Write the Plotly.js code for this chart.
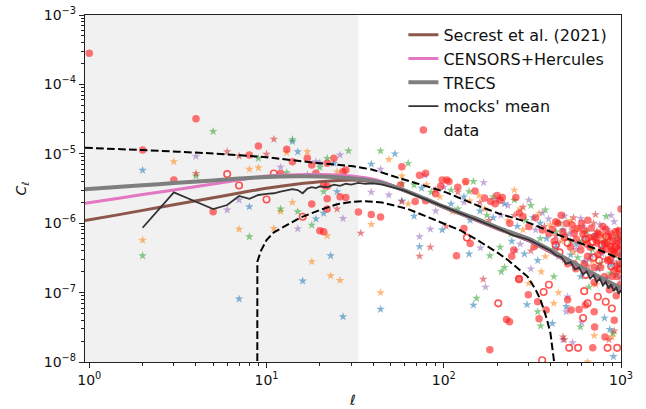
<!DOCTYPE html>
<html><head><meta charset="utf-8">
<script src="https://cdn.plot.ly/plotly-3.0.1.min.js"></script>
<style>html,body{margin:0;padding:0;background:#fff}</style>
</head><body><div id="chart" style="width:646px;height:409px"></div>
<script>
// ---- model curves ----
const modelEll = [0.946, 1.5, 2, 3, 5, 7, 10, 15, 20, 30, 40, 50, 70, 100, 150, 200, 300, 500, 700, 1000];
const secrestCl = [1.09e-6, 1.34e-6, 1.53e-6, 1.84e-6, 2.33e-6, 2.72e-6, 3.18e-6, 3.67e-6, 3.96e-6, 4.19e-6, 3.95e-6, 3.5e-6, 2.5e-6, 1.68e-6, 1.12e-6, 8.3e-7, 5.6e-7, 2.8e-7, 1.75e-7, 1.03e-7];
const censorsCl = [1.94e-6, 2.31e-6, 2.6e-6, 3.0e-6, 3.68e-6, 4.2e-6, 4.79e-6, 5.0e-6, 5.02e-6, 4.8e-6, 4.3e-6, 3.6e-6, 2.55e-6, 1.7e-6, 1.14e-6, 8.4e-7, 5.7e-7, 2.85e-7, 1.78e-7, 1.08e-7];
const trecsCl = [3.08e-6, 3.34e-6, 3.52e-6, 3.78e-6, 4.14e-6, 4.4e-6, 4.65e-6, 4.75e-6, 4.72e-6, 4.45e-6, 4.05e-6, 3.5e-6, 2.55e-6, 1.73e-6, 1.18e-6, 8.7e-7, 6.0e-7, 3.0e-7, 1.87e-7, 1.15e-7];

// ---- mocks' mean ----
const meanEll = [2,3,4,5,6,7,8,9,10,11,12,13,14,15,16,17,18,19,20,22,24,26,28,30,33,36,40,45,50,60,70,85,100,130,160,200,250,300,350,380,400,430,460,490,520,550,580,610,640,670,700,730,760,790,820,850,880,910,940,970,1000];
const meanCl = [8.6e-7,2.78e-6,2.04e-6,1.6e-6,1.83e-6,2.47e-6,2.25e-6,2.55e-6,2.65e-6,2.7e-6,2.85e-6,2.95e-6,3.1e-6,3.0e-6,2.7e-6,3.15e-6,3.3e-6,3.2e-6,3.4e-6,3.3e-6,3.6e-6,3.45e-6,3.7e-6,3.6e-6,3.8e-6,3.7e-6,3.75e-6,3.6e-6,3.35e-6,2.95e-6,2.5e-6,2.05e-6,1.72e-6,1.3e-6,1.07e-6,8.5e-7,6.6e-7,5.8e-7,4.75e-7,4.2e-7,4.0e-7,3.45e-7,3.25e-7,2.6e-7,2.75e-7,2.15e-7,2.3e-7,1.82e-7,2.02e-7,1.6e-7,1.78e-7,1.42e-7,1.6e-7,1.27e-7,1.43e-7,1.15e-7,1.31e-7,1.05e-7,1.2e-7,9.6e-8,1.09e-7];

// ---- mocks' spread (dashed) ----
const upperEll = [0.946, 2, 5, 10, 20, 30, 40, 57, 100, 155, 200, 300, 400, 500, 650, 800, 1000];
const upperCl = [1.22e-5, 1.13e-5, 1.01e-5, 8.9e-6, 7.3e-6, 6.67e-6, 5.85e-6, 4.4e-6, 2.85e-6, 1.8e-6, 1.41e-6, 1.02e-6, 7.55e-7, 6.0e-7, 4.7e-7, 3.85e-7, 3.0e-7];
const lowerEll = [8.87, 8.88, 9.3, 10, 11, 12.5, 15.5, 20, 25, 30, 36, 45, 53, 62, 80, 100, 125, 154, 200, 230, 265, 297, 330, 352, 380, 400, 418, 426];
const lowerCl = [5e-9, 2.8e-7, 4.0e-7, 5.7e-7, 7.4e-7, 8.9e-7, 1.2e-6, 1.55e-6, 1.87e-6, 2.02e-6, 2.08e-6, 1.98e-6, 1.8e-6, 1.62e-6, 1.25e-6, 1.0e-6, 7.8e-7, 5.75e-7, 3.8e-7, 2.95e-7, 2.2e-7, 1.7e-7, 1.1e-7, 7.8e-8, 4.3e-8, 2.6e-8, 1.07e-8, 5e-9];

// ---- individual mocks ----
const blueEll = [2,7,8,14,15,16,19,21,23,24,25,27,39,44,53,58,68,73,98,139,141,147,242,285,295,339,410,491,593,807,865,906,110,160,190,260,320,380,430,470,520,560,620,680,740,780,830,880,940,990,960,75,130,220,350,700,900];
const blueCl = [5.8e-6,8.1e-8,1.73e-6,1.5e-5,1.07e-5,1.47e-7,1.15e-6,1.39e-6,3.4e-7,7.3e-6,2.85e-6,4.5e-8,7.1e-6,5.75e-8,1.0e-5,2.1e-6,1.26e-6,4.6e-7,8.0e-7,3.6e-7,1.1e-6,6.6e-8,5.5e-7,3.6e-7,6.7e-8,2.9e-7,3.6e-8,6.3e-8,1.7e-7,4.3e-8,2.95e-8,1.2e-8,1.9e-6,1.5e-6,1.2e-6,9e-7,1.2e-6,6e-7,4.5e-7,8e-7,3.5e-7,5e-7,2.8e-7,3.5e-7,2.2e-7,4.5e-7,1.6e-7,2.5e-7,1.8e-7,3.5e-7,1.2e-7,3.2e-6,2.4e-6,1.9e-6,1.0e-6,6.5e-7,4.2e-7];
const orangeEll = [2,3,7,8,9,11,12,13,14,17,18,22,23,25,26,39,44,49,58,63,112,133,158,250,302,345,355,374,418,444,648,706,890,95,170,230,280,330,400,460,540,580,630,690,750,800,860,920,980,720,80,140,270,520,850];
const orangeCl = [5.7e-7,7.7e-6,8.2e-7,6.0e-6,6.3e-6,8.4e-7,1.47e-6,1.04e-5,2.0e-6,1.07e-5,2.8e-7,6.6e-7,1.75e-7,5.5e-6,1.5e-7,9.6e-7,1.0e-7,8.3e-6,4.8e-6,1.9e-6,1.47e-6,3.85e-6,2.5e-6,3.0e-6,1.36e-7,1.4e-6,2e-7,3.3e-7,7e-8,1e-7,1e-8,2.4e-8,2.3e-8,2.4e-6,1.6e-6,1.1e-6,8e-7,4.8e-7,9.5e-7,5.5e-7,3.8e-7,8.5e-7,5.5e-7,2.8e-7,4e-7,6.5e-7,3.2e-7,4.2e-7,2e-7,1.3e-7,3.6e-6,2.1e-6,1.6e-6,1.1e-6,5.0e-7];
const greenEll = [2,4,5,8,9,12,13,14,15,18,20,21,22,29,44,58,63,68,139,147,153,182,208,211,220,250,310,339,352,374,418,480,590,825,900,85,120,175,240,290,350,410,450,520,570,640,690,760,810,870,930,990,660,110,190,430,600,950];
const greenCl = [3.4e-7,4.8e-6,2.1e-5,6.4e-7,8.6e-6,1.6e-6,5.35e-6,1.6e-5,1.47e-6,9.4e-7,6.4e-6,2.85e-6,8.6e-6,1.1e-5,1.1e-5,3.7e-6,7.3e-6,3.55e-6,2.85e-6,4.0e-6,8.3e-8,3.4e-7,4.5e-7,2.0e-7,2.3e-7,2.15e-6,1.8e-6,5.3e-8,3.3e-8,1.55e-6,1.7e-7,6.7e-7,3.2e-8,1.25e-6,2.6e-8,2.8e-6,1.6e-6,1.3e-6,7e-7,1.1e-6,6e-7,4e-7,1.0e-6,5.5e-7,3.2e-7,7.5e-7,4.2e-7,2.6e-7,5.5e-7,1.9e-7,3.4e-7,2.5e-7,1.2e-7,3.0e-6,2.4e-6,7.5e-7,5.5e-7,6.5e-7];
const purpleEll = [4,6,7,12,15,17,19,20,26,27,39,44,49,73,78,84,161,168,172,230,255,302,310,444,471,480,491,500,533,593,600,915,90,130,210,270,330,390,440,510,560,610,660,720,780,840,900,960,1000,880,100,200,360,620,760,970];
const purpleCl = [9.2e-6,1.55e-6,2.16e-6,6.4e-6,8.3e-7,5.0e-6,7.7e-6,7.4e-6,9.6e-6,1.17e-6,2.8e-6,6.0e-6,2.55e-6,6.4e-7,4.9e-6,8.2e-7,4.4e-7,3.85e-6,1.2e-7,1.8e-6,4.1e-7,2.15e-6,2.2e-7,3.3e-7,2.1e-8,1.27e-6,5.3e-8,8.7e-8,1.9e-8,1.17e-6,3.7e-8,1.05e-6,1.5e-6,2.0e-6,1.3e-6,5e-7,8e-7,1.15e-6,5.2e-7,7e-7,4.2e-7,9e-7,3.0e-7,6.8e-7,3.6e-7,8e-7,2.8e-7,4.5e-7,1.6e-7,1.3e-6,3.3e-6,2.2e-6,1.4e-6,6.2e-7,9.5e-7,5.8e-7];
const redEll = [4,6,7,10,11,25,34,58,73,84,103,167,471,479,717,855,916,120,180,250,310,370,430,480,530,590,650,700,760,820,880,940,990,90,160,280,540,730,960];
const redCl = [5.2e-6,1.07e-5,9.3e-6,9.9e-6,1.62e-5,1.6e-6,7.2e-7,2.05e-6,3.35e-7,4.5e-7,9.1e-7,1.56e-7,2.3e-8,2.1e-8,1.33e-6,2.1e-8,2.8e-8,2.8e-6,1.1e-6,1.3e-6,4e-7,9e-7,6.5e-7,3e-7,8e-7,5e-7,2.4e-7,1.0e-6,5.5e-7,3e-7,6e-7,2.6e-7,5.5e-7,3.0e-6,2.0e-6,1.7e-6,1.2e-6,7.5e-7,8e-7];

// ---- data ----
const dataEll = [1,2,3,4,5,8,9,12,13,14,17,18,18,19,20,21,21,22,22,22,22,24,26,27,28,28,33,39,44,58,57,73,79,79,69,90,96,98,104,107,133,130,118,141,184,195,200,208,214,255,248,226,235,182,236,266,242,266,300,302,324,339,345,378,392,428,491,500,500,523,545,545,555,567,580,593,622,630,648,660,693,706,706,706,706,710,720,768,808,808,812,825,842,873,888,916,916,916,950,330,360,420,460,470,520,600,640,680,740,780,790,850,870,900,930,960,980,1000,950,860,940,990,740,620,1000,410,440,480,530,560,610,650,670,730,760,820,830,880,910,940,970,990,1000,890,960,150,170,120,280];
const dataCl = [2.8e-4,1.13e-5,4.2e-6,3.2e-5,1.46e-6,9.6e-6,1.3e-5,5.2e-6,1.16e-5,7.7e-6,8.6e-6,6.9e-6,1.89e-6,5.25e-6,7.8e-7,7.5e-7,3.55e-6,7.3e-6,3.4e-6,2.25e-6,1.6e-6,8.6e-6,2.4e-6,5.5e-6,5.85e-6,2.35e-6,1.45e-6,1.33e-6,1.23e-6,6.5e-6,3.55e-6,4.9e-6,5.25e-6,2.1e-6,2.05e-6,2.65e-6,3.4e-6,4.2e-6,4.2e-6,4.0e-6,4.0e-6,8.4e-7,3.4e-7,5.1e-7,2.05e-6,1.9e-6,2.5e-6,2.15e-6,2.35e-6,2.35e-6,4.1e-7,4.1e-8,3.8e-8,1.5e-8,1.0e-6,1.4e-6,3.35e-7,1.6e-7,9.3e-8,9e-7,4.6e-7,7.4e-8,4.2e-8,5.6e-8,7.1e-7,1.05e-6,9.9e-7,2.6e-7,7.9e-8,5.6e-8,7.1e-7,2.6e-7,2.2e-7,8.4e-7,5.7e-8,4.1e-7,7.9e-7,6.6e-8,3.35e-7,6.2e-7,1.6e-8,6.4e-7,5.3e-8,2.3e-7,1.4e-7,3.2e-8,5.8e-7,2.3e-7,5.1e-7,1.7e-7,2.3e-8,5.1e-7,2.9e-7,4.6e-7,4.1e-7,3.6e-7,2.1e-7,4.0e-8,1.7e-7,1.2e-6,8e-7,5.5e-7,1.3e-6,7.5e-7,4.5e-7,1.0e-6,5.0e-7,8.5e-7,7.2e-7,4.0e-7,9e-7,6.5e-7,3.0e-7,5.5e-7,7.5e-7,4.2e-7,2.6e-7,3.4e-7,6.0e-7,1.1e-7,9e-8,1.3e-7,3.5e-7,2.6e-7,1.6e-6,8.2e-7,1.0e-6,6.3e-7,9.5e-7,5.8e-7,7.0e-7,1.1e-6,4.5e-7,5.2e-7,6.8e-7,8.2e-7,4.2e-7,7.0e-7,3.9e-7,5.0e-7,7.8e-7,4.8e-7,6.5e-7,1.7e-7,2.2e-7,2.9e-6,2.3e-6,3.3e-6,1.25e-6];
// negative data values, plotted as |C| with open markers
const negEll = [6,7,10,11,16,135,203,266,366,359,500,510,573,611,632,648,740,840,888,952,428,693,752,632,825,392,820,450,700,780,880,930,990,620];
const negCl = [5.1e-6,3.5e-6,2.2e-6,5.2e-6,1.24e-6,6.2e-7,7.0e-8,1.56e-7,1.02e-7,1.06e-8,5.2e-7,1.6e-8,1.6e-8,4.3e-8,5.9e-7,7e-8,8.7e-8,1.6e-8,5.9e-8,1.6e-8,4.8e-7,5.4e-7,2.9e-7,1.8e-7,6.4e-7,1.3e-7,7.4e-8,3.8e-7,3.2e-7,4.8e-7,2.4e-7,4.5e-7,2.2e-7,1.05e-7];

// ---- ticks ----
const xTickVals = [1, 10, 100, 1000];
const xTickText = ['10<sup>0</sup>', '10<sup>1</sup>', '10<sup>2</sup>', '10<sup>3</sup>'];
const yTickVals = [1e-8, 1e-7, 1e-6, 1e-5, 1e-4, 1e-3];
const yTickText = ['10<sup>\u22128</sup>', '10<sup>\u22127</sup>', '10<sup>\u22126</sup>', '10<sup>\u22125</sup>', '10<sup>\u22124</sup>', '10<sup>\u22123</sup>'];
const xMinor = [];
[1, 10, 100].forEach(d => { for (let k = 2; k <= 9; k++) xMinor.push(k * d); });
const yMinor = [];
[1e-8, 1e-7, 1e-6, 1e-5, 1e-4].forEach(d => { for (let k = 2; k <= 9; k++) yMinor.push(k * d); });

function stars(x, y, col) {
  return {x: x, y: y, type: 'scatter', mode: 'markers', showlegend: false, hoverinfo: 'skip',
    marker: {symbol: 'star', size: 6.5, color: col, line: {width: 0}}};
}
const traces = [
  stars(blueEll, blueCl, 'rgba(31,119,180,0.55)'),
  stars(orangeEll, orangeCl, 'rgba(255,127,14,0.55)'),
  stars(greenEll, greenCl, 'rgba(44,160,44,0.55)'),
  stars(purpleEll, purpleCl, 'rgba(148,103,189,0.55)'),
  stars(redEll, redCl, 'rgba(214,39,40,0.55)'),
  {x: negEll, y: negCl, type: 'scatter', mode: 'markers', showlegend: false,
    marker: {symbol: 'circle-open', size: 6.5, color: 'rgba(255,30,30,0.75)', line: {width: 1.6, color: 'rgba(255,30,30,0.75)'}}},
  {x: dataEll, y: dataCl, type: 'scatter', mode: 'markers', name: 'data', legendrank: 5, legendgroup: 'g5',
    marker: {symbol: 'circle', size: 7.5, color: 'rgba(255,30,30,0.62)', line: {width: 0}}},
  {x: upperEll, y: upperCl, type: 'scatter', mode: 'lines', showlegend: false,
    line: {color: '#000', width: 2, dash: '7.7px,3.3px', shape: 'spline', smoothing: 0.6}},
  {x: lowerEll, y: lowerCl, type: 'scatter', mode: 'lines', showlegend: false,
    line: {color: '#000', width: 2, dash: '7.7px,3.3px'}},
  {x: modelEll, y: secrestCl, type: 'scatter', mode: 'lines', name: 'Secrest et al. (2021)', legendrank: 1, legendgroup: 'g1',
    line: {color: '#8c564b', width: 3, shape: 'spline', smoothing: 0.6}},
  {x: modelEll, y: censorsCl, type: 'scatter', mode: 'lines', name: 'CENSORS+Hercules', legendrank: 2, legendgroup: 'g2',
    line: {color: '#e377c2', width: 3, shape: 'spline', smoothing: 0.6}},
  {x: modelEll, y: trecsCl, type: 'scatter', mode: 'lines', name: 'TRECS', legendrank: 3, legendgroup: 'g3',
    line: {color: '#7f7f7f', width: 4, shape: 'spline', smoothing: 0.6}},
  {x: meanEll, y: meanCl, type: 'scatter', mode: 'lines', name: "mocks' mean", legendrank: 4, legendgroup: 'g4',
    line: {color: '#333333', width: 1.8}}
];

const axisCommon = {
  ticks: 'outside', ticklen: 5, tickwidth: 1, tickcolor: '#222',
  showline: true, linecolor: '#222', linewidth: 1.2, mirror: true,
  showgrid: false, zeroline: false,
  tickfont: {family: 'DejaVu Sans', size: 14, color: '#111'}
};
const layout = {
  width: 646, height: 409,
  margin: {l: 85, r: 25, t: 15, b: 47},
  paper_bgcolor: '#fff', plot_bgcolor: '#fff',
  font: {family: 'DejaVu Sans', size: 14, color: '#111'},
  showlegend: true,
  legend: {x: 0.594, y: 0.992, xanchor: 'left', yanchor: 'top', bgcolor: 'rgba(0,0,0,0)',
    font: {family: 'DejaVu Sans', size: 16, color: '#111'}, traceorder: 'grouped', tracegroupgap: 0},
  xaxis: Object.assign({}, axisCommon, {
    type: 'log', range: [Math.log10(0.946), 3],
    tickmode: 'array', tickvals: xTickVals, ticktext: xTickText,
    minor: {tickmode: 'array', tickvals: xMinor, ticks: 'outside', ticklen: 3, tickcolor: '#222', showgrid: false},
    title: {text: '<i>ℓ</i>', standoff: 8, font: {family: 'DejaVu Sans', size: 14}}
  }),
  yaxis: Object.assign({}, axisCommon, {
    type: 'log', range: [-8, -3],
    tickmode: 'array', tickvals: yTickVals, ticktext: yTickText,
    minor: {tickmode: 'array', tickvals: yMinor, ticks: 'outside', ticklen: 3, tickcolor: '#222', showgrid: false},
    title: {text: '<i>C</i><sub><i>ℓ</i></sub>', standoff: 13, font: {family: 'DejaVu Sans', size: 14}}
  }),
  shapes: [{type: 'rect', xref: 'x', yref: 'paper', x0: 0.946, x1: 33, y0: 0, y1: 1,
    fillcolor: '#f1f1f1', line: {width: 0}, layer: 'below'}]
};
Plotly.newPlot('chart', traces, layout, {staticPlot: true, displayModeBar: false});
</script>
</body></html>
